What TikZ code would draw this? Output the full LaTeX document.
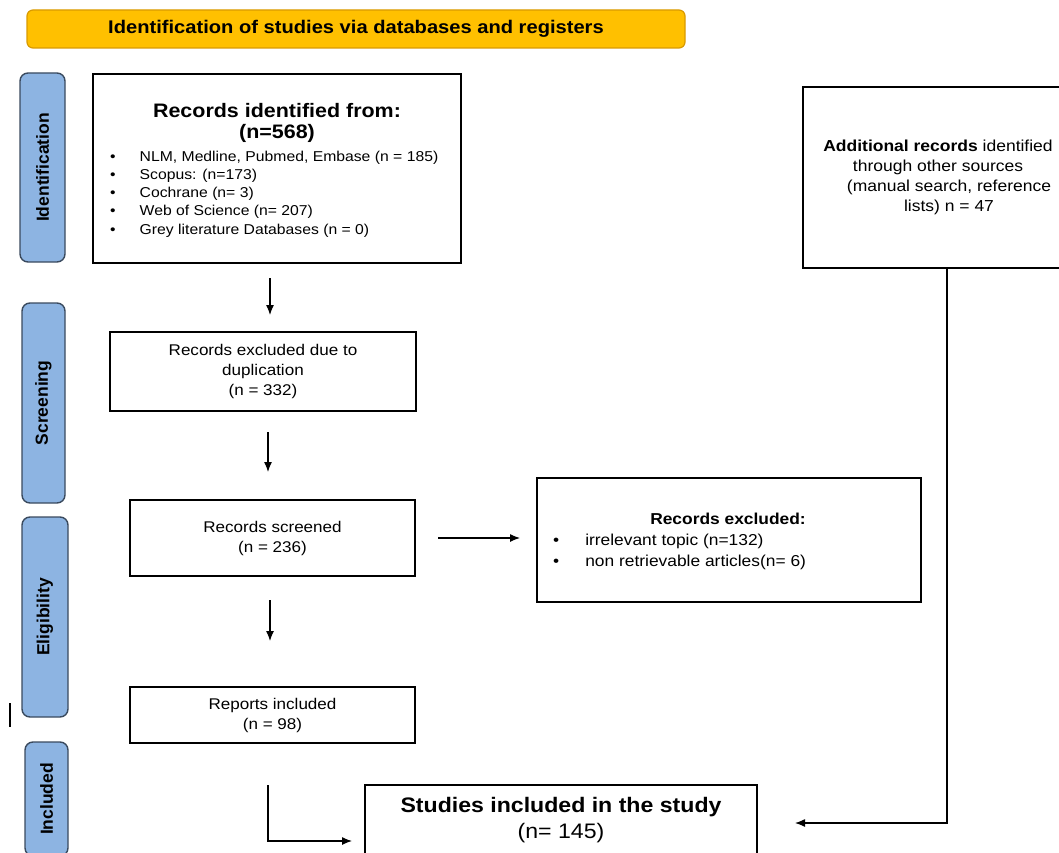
\documentclass[tikz,border=0pt]{standalone}
\usepackage{fontspec}
\setmainfont{Liberation Sans}[FakeStretch=1.1]
\newfontfamily\sidefont{Liberation Sans}
\usetikzlibrary{arrows.meta,positioning}

\definecolor{bannerfill}{HTML}{FFC000}
\definecolor{bannerline}{HTML}{D99A00}
\definecolor{sidefill}{HTML}{8DB4E2}
\definecolor{sideline}{HTML}{3A4A5E}

\tikzset{
    box/.style={draw=black, line width=1.3pt, inner sep=0pt},
    sidebox/.style={draw=sideline, fill=sidefill, line width=1.4pt, rounded corners=8pt,
        rotate=90, inner sep=0pt, font=\sidefont\fontsize{17.5}{18}\selectfont\bfseries},
    txt/.style={align=center, inner sep=0pt, font=\fontsize{15.5}{20}\selectfont},
    bold/.style={align=center, inner sep=0pt, font=\fontsize{19.5}{21}\selectfont\bfseries},
    arr/.style={-{Latex[length=10pt,width=8pt]}, line width=1.2pt}
}

\begin{document}
\begin{tikzpicture}[x=1pt, y=-1pt]
    \useasboundingbox (0,0) rectangle (1059,853);
    \clip (0,0) rectangle (1059,853);
    % banner
    \node[draw=bannerline, fill=bannerfill, line width=1.2pt, rounded corners=6pt,
        minimum width=658pt, minimum height=38pt, inner sep=0pt,
        font=\fontsize{18.3}{20}\selectfont\bfseries] (banner) at (356,29)
        {Identification of studies via databases and registers};
    % side labels
    \node[sidebox, minimum width=189pt, minimum height=45pt] (ident) at (42.5,167.5) {Identification};
    \node[sidebox, minimum width=200pt, minimum height=43pt] (screen) at (43.5,403) {Screening};
    \node[sidebox, minimum width=200pt, minimum height=46pt] (elig) at (45,617) {Eligibility};
    \node[sidebox, minimum width=114pt, minimum height=43pt] (incl) at (46.5,799) {Included};
    \draw[line width=1.2pt] (10,703) -- (10,727);
    % identification
    \node[box, minimum width=368pt, minimum height=189pt] (recid) at (277,168.5) {};
    \node[bold] (recidtitle) at (277,123) {Records identified from:\\(n=568)};
    \node[anchor=north west, inner sep=0pt, font=\fontsize{14.3}{18.3}\selectfont] (recidlist) at (110,148)
        {\begin{tabular}{@{}l@{\hspace{24pt}}l@{}}
        \textbullet & NLM, Medline, Pubmed, Embase (n = 185)\\
        \textbullet & Scopus: (n=173)\\
        \textbullet & Cochrane (n= 3)\\
        \textbullet & Web of Science (n= 207)\\
        \textbullet & Grey literature Databases (n = 0)
        \end{tabular}};
    \node[box, minimum width=270pt, minimum height=181pt, txt, font=\fontsize{15.9}{20}\selectfont] (addl) at (938,177.5)
        {\textbf{Additional records} identified\\through other sources\\\hspace*{22pt}(manual search, reference\\\hspace*{22pt}lists) n = 47};
    % screening
    \node[box, minimum width=306pt, minimum height=79pt, txt] (dup) at (263,371.5)
        {Records excluded due to\\duplication\\(n = 332)};
    \node[box, minimum width=285pt, minimum height=76pt, txt] (screened) at (272.5,538)
        {Records screened\\(n = 236)};
    \node[box, minimum width=384pt, minimum height=124pt] (excl) at (729,540) {};
    \node[bold, font=\fontsize{15.8}{20}\selectfont\bfseries] (excltitle) at (728,519) {Records excluded:};
    \node[anchor=north west, inner sep=0pt, font=\fontsize{15.8}{21.5}\selectfont] (excllist) at (553,530)
        {\begin{tabular}{@{}l@{\hspace{26pt}}l@{}}
        \textbullet & irrelevant topic (n=132)\\
        \textbullet & non retrievable articles(n= 6)
        \end{tabular}};
    % eligibility / included
    \node[box, minimum width=285pt, minimum height=56pt, txt] (reports) at (272.5,715)
        {Reports included\\(n = 98)};
    \node[box, minimum width=392pt, minimum height=71pt, txt, font=\fontsize{21}{26}\selectfont] (final) at (561,820.5)
        {\textbf{Studies included in the study}\\(n= 145)};
    % connectors
    \coordinate (a1) at (270,278);
    \coordinate (a2) at (268,432);
    \coordinate (a3) at (438,538);
    \coordinate (a4) at (270,600);
    \coordinate (a5) at (268,785);
    \coordinate (a5e) at (352,841);
    \coordinate (a6) at (947,268);
    \coordinate (a6e) at (795,823);
    \draw[arr] (a1) -- (270,315);
    \draw[arr] (a2) -- (268,472);
    \draw[arr] (a3) -- (520,538);
    \draw[arr] (a4) -- (270,641);
    \draw[arr] (a5) |- (a5e);
    \draw[arr] (a6) |- (a6e);
\end{tikzpicture}
\end{document}
